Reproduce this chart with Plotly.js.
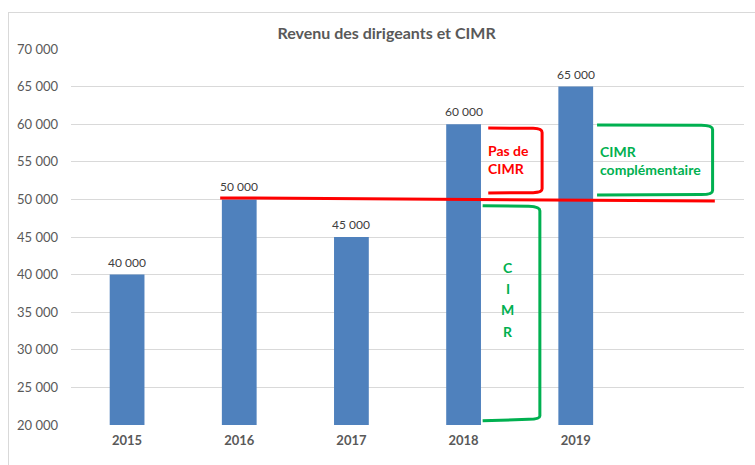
<!DOCTYPE html>
<html><head><meta charset="utf-8">
<script src="https://cdn.plot.ly/plotly-3.0.1.min.js"></script>
<style>
html,body{margin:0;padding:0;background:#fff;}
#wrap{position:relative;width:755px;height:465px;overflow:hidden;}
#chart{position:absolute;left:0;top:0;width:755px;height:465px;}
#frame{position:absolute;left:8px;top:12px;width:800px;height:500px;border:1px solid #d9d9d9;pointer-events:none;}
</style></head>
<body><div id="wrap"><div id="chart"></div><div id="frame"></div></div>
<script>
const years = ['2015','2016','2017','2018','2019'];
const revenus = [40000, 50000, 45000, 60000, 65000];
const seuil = 50000;
const yTicks = [20000,25000,30000,35000,40000,45000,50000,55000,60000,65000,70000];
const cimrLetters = ['C','I','M','R'];

const xIdx = years.map((_, i) => i);
const RED = '#ff0000', GREEN = '#00b050';

const trace = {
  type: 'bar', x: xIdx, y: revenus,
  marker: {color: '#4f81bd'},
  hoverinfo: 'skip'
};

const shapes = [
  {type:'line', xref:'x', yref:'y', x0:0.83, x1:5.24, y0:seuil+200, y1:seuil-200, line:{color:RED, width:3}},
  {type:'path', xref:'x', yref:'y', path:'M 3.22,59500 L 3.62,59450 Q 3.70,59400 3.70,58900 L 3.70,51400 Q 3.70,50900 3.62,50900 L 3.22,50850', line:{color:RED, width:3}},
  {type:'path', xref:'x', yref:'y', path:'M 4.19,59900 L 5.12,59850 Q 5.22,59800 5.22,59300 L 5.22,51200 Q 5.22,50650 5.12,50650 L 4.19,50600', line:{color:GREEN, width:3}},
  {type:'path', xref:'x', yref:'y', path:'M 3.17,49150 L 3.58,49100 Q 3.68,49050 3.68,48500 L 3.68,21200 Q 3.68,20800 3.58,20750 L 3.17,20550', line:{color:GREEN, width:3}}
];

const fmt = (v) => String(v).replace(/\B(?=(\d{3})+(?!\d))/g, ' ');
const annFont = (c) => ({family:'Lato, sans-serif', size:14, color:c, weight:'bold'});
const annotations = [
  {xref:'x', yref:'y', x:3.40, y:55300, text:'<b>Pas de<br>CIMR</b>', showarrow:false, font:annFont(RED), align:'left'},
  {xref:'x', yref:'y', x:4.20, y:55200, xanchor:'left', text:'<b>CIMR<br>complémentaire</b>', showarrow:false, font:annFont(GREEN), align:'left'}
].concat(cimrLetters.map((l, i) => ({xref:'x', yref:'y', x:3.395, y:40900 - i*2800, text:'<b>'+l+'</b>', showarrow:false, font:annFont(GREEN)})))
 .concat(revenus.map((v, i) => ({xref:'x', yref:'y', x:xIdx[i], y:v, yanchor:'bottom', yshift:3, text:fmt(v), showarrow:false,
   font:{family:'Lato, sans-serif', size:12, color:'#404040'}})));

const layout = {
  width:755, height:465,
  margin:{l:71, r:11, t:49, b:40},
  paper_bgcolor:'rgba(0,0,0,0)', plot_bgcolor:'#fff',
  separators:', ',
  showlegend:false, bargap:0.69,
  title:{text:'<b>Revenu des dirigeants et CIMR</b>', x:0.512, xanchor:'center', y:0.928, yanchor:'middle',
         font:{family:'Lato, sans-serif', size:16, color:'#595959'}},
  xaxis:{range:[-0.5,5.5], tickvals:xIdx, ticktext:years, showgrid:false, zeroline:false, showline:false,
         ticks:'', tickfont:{family:'Lato, sans-serif', size:13, color:'#595959', weight:'bold'}, ticklabelstandoff:6},
  yaxis:{range:[20000,70000], tickvals:yTicks, tickformat:',', showgrid:true, gridcolor:'#d9d9d9', gridwidth:1,
         zeroline:false, showline:false, ticks:'', ticklabelstandoff:12,
         tickfont:{family:'Lato, sans-serif', size:13, color:'#595959'}},
  shapes: shapes, annotations: annotations
};

Plotly.newPlot('chart', [trace], layout, {staticPlot:true, displayModeBar:false});
</script></body></html>
